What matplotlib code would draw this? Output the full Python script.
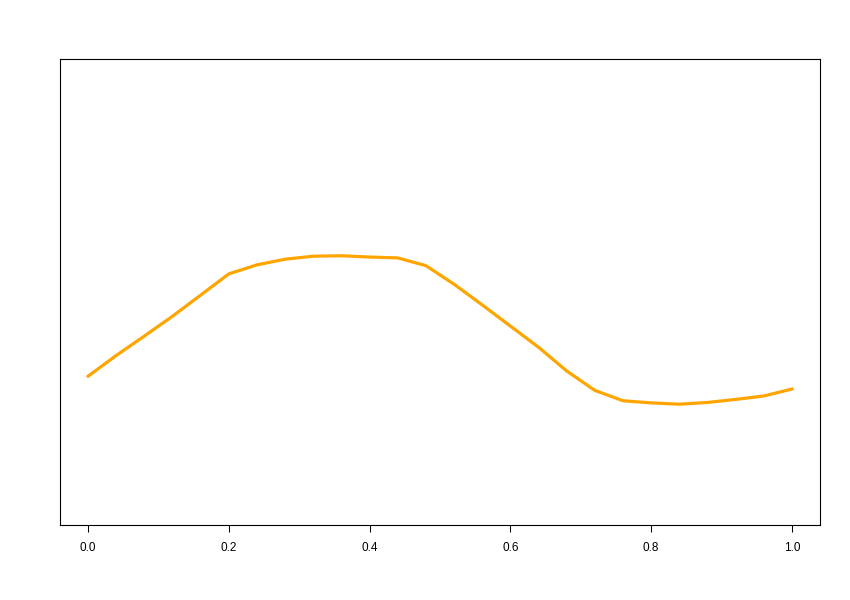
import matplotlib
matplotlib.use("Agg")
import matplotlib.pyplot as plt

x_vals = [0.00, 0.04, 0.08, 0.12, 0.16, 0.20, 0.24, 0.28, 0.32, 0.36, 0.40, 0.44, 0.48,
          0.52, 0.56, 0.60, 0.64, 0.68, 0.72, 0.76, 0.80, 0.84, 0.88, 0.92, 0.96, 1.00]
y_vals = [0.305, 0.353, 0.398, 0.444, 0.493, 0.542, 0.563, 0.576, 0.583, 0.584, 0.581, 0.579, 0.561,
          0.518, 0.470, 0.421, 0.372, 0.317, 0.272, 0.248, 0.243, 0.240, 0.244, 0.251, 0.259, 0.275]
x_ticks = [0.0, 0.2, 0.4, 0.6, 0.8, 1.0]
x_tick_labels = ["0.0", "0.2", "0.4", "0.6", "0.8", "1.0"]

plt.rcParams['font.family'] = ['Liberation Sans', 'DejaVu Sans']
fig = plt.figure(figsize=(8.5, 6.0), dpi=100)
ax = fig.add_axes([60/850, 75/600, 760/850, 466/600])
ax.plot(x_vals, y_vals, color='#FFA500', linewidth=2.3, solid_joinstyle='round')
ax.set_xlim(-0.04, 1.04)
ax.set_ylim(-0.04, 1.04)
ax.set_xticks(x_ticks)
ax.set_xticklabels(x_tick_labels, fontsize=8.5)
ax.set_yticks([])
ax.tick_params(axis='x', length=5, width=0.75, pad=7, colors='black')
for s in ax.spines.values():
    s.set_linewidth(0.8)
    s.set_color('black')
fig.savefig("out.png", dpi=100)
